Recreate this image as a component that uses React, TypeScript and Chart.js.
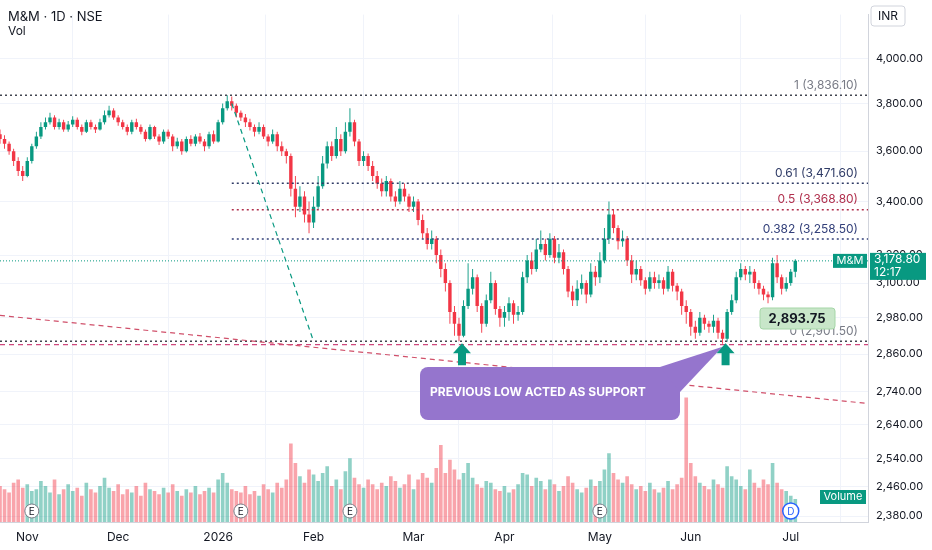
import React, { useEffect, useRef } from "react";
import { Chart, registerables } from "chart.js";
Chart.register(...registerables);

const closes = [3650,3630,3600,3560,3520,3500,3560,3620,3660,3700,3720,3740,3700,3720,3690,3710,3730,3700,3680,3720,
3700,3690,3720,3750,3770,3740,3720,3700,3680,3720,3700,3680,3650,3700,3660,3640,3680,3660,3620,3640,
3600,3650,3630,3660,3640,3620,3670,3640,3720,3780,3810,3790,3760,3740,3720,3700,3680,3700,3660,3640,
3670,3620,3600,3580,3450,3380,3420,3350,3320,3380,3460,3550,3620,3580,3650,3600,3680,3720,3640,3560,
3580,3540,3500,3470,3440,3480,3420,3400,3450,3420,3380,3400,3330,3280,3240,3260,3200,3150,3100,3000,
2960,2920,3020,3080,3120,3020,2960,3040,3100,3010,2980,3000,3030,2990,3000,3120,3180,3150,3220,3240,
3200,3260,3190,3210,3150,3070,3040,3080,3100,3060,3140,3120,3180,3260,3350,3300,3250,3260,3180,3130,
3150,3110,3080,3120,3100,3110,3080,3140,3090,3070,3020,3000,2950,2930,2980,2960,2950,2970,2930,2910,
3000,3040,3120,3150,3130,3140,3100,3080,3060,3050,3170,3120,3080,3100,3140,3178.8];
const highs = [3690,3665,3640,3610,3575,3540,3575,3630,3680,3720,3740,3760,3750,3735,3730,3725,3745,3740,3710,3730,
3730,3710,3735,3770,3790,3780,3750,3730,3710,3730,3735,3710,3690,3710,3705,3670,3690,3690,3670,3655,
3650,3660,3665,3670,3675,3650,3680,3685,3730,3800,3836,3830,3800,3770,3755,3735,3710,3720,3710,3670,
3690,3680,3640,3610,3590,3500,3460,3440,3400,3420,3500,3580,3640,3640,3700,3670,3720,3780,3730,3650,
3600,3590,3560,3520,3490,3500,3490,3440,3480,3470,3430,3420,3410,3350,3300,3290,3270,3220,3170,3110,
3020,2980,3040,3170,3150,3130,3030,3060,3140,3110,3020,3020,3050,3040,3020,3140,3200,3210,3260,3290,
3260,3280,3270,3240,3220,3160,3090,3110,3130,3110,3170,3160,3210,3300,3400,3370,3310,3290,3270,3200,
3180,3160,3120,3140,3140,3130,3120,3160,3150,3100,3080,3040,3010,2970,3000,2990,2970,2990,2980,2940,
3010,3060,3140,3170,3160,3160,3150,3110,3090,3070,3190,3200,3130,3120,3150,3185];
const lows = [3630,3610,3585,3540,3500,3480,3495,3550,3610,3650,3690,3710,3690,3690,3680,3680,3700,3690,3665,3675,
3690,3675,3685,3710,3740,3730,3705,3690,3665,3670,3690,3670,3640,3645,3650,3625,3630,3650,3600,3610,
3585,3595,3620,3620,3630,3600,3610,3630,3635,3710,3770,3770,3740,3725,3700,3685,3660,3670,3650,3620,
3630,3600,3580,3550,3420,3340,3360,3320,3280,3300,3370,3450,3530,3560,3570,3580,3590,3660,3620,3540,
3540,3520,3480,3450,3420,3420,3400,3380,3390,3400,3360,3360,3310,3260,3220,3220,3170,3120,3070,2960,
2920,2901.5,2915,3010,3060,3000,2930,2950,3030,2990,2950,2950,2970,2960,2970,2990,3100,3130,3140,3210,
3180,3190,3170,3170,3130,3050,3020,3020,3060,3030,3050,3090,3100,3170,3240,3280,3220,3230,3160,3100,
3110,3090,3060,3070,3080,3080,3060,3070,3070,3040,2990,2960,2920,2910,2920,2940,2930,2930,2910,2893.75,
2900,2990,3030,3110,3110,3100,3080,3060,3040,3030,3040,3100,3060,3070,3090,3120];
const firstOpen = 3670;
const volumes = [2.2,2.0,1.8,2.4,2.6,2.1,2.3,1.9,2.0,2.5,2.2,1.8,2.6,1.7,2.0,2.3,1.9,2.1,1.6,2.4,
2.0,1.8,2.2,2.7,2.1,1.9,2.3,1.7,2.0,1.8,2.2,1.6,2.4,2.0,1.9,1.7,2.1,1.8,2.3,1.9,
1.6,2.0,1.8,2.2,1.7,1.9,2.1,1.8,2.6,3.0,2.4,2.0,1.9,1.8,2.2,1.7,1.9,1.6,2.3,2.0,
1.8,2.4,2.1,2.6,4.8,3.6,2.8,2.4,3.2,2.9,2.5,3.0,3.4,2.2,2.6,2.0,3.1,3.9,2.7,2.3,
2.1,2.6,2.3,2.0,2.4,2.2,2.8,2.5,2.1,2.3,2.9,2.0,2.6,3.0,2.7,2.4,3.3,4.7,3.0,3.8,
3.2,2.6,3.0,3.6,2.7,2.3,2.1,2.5,2.4,2.0,1.9,2.2,1.8,2.0,2.3,3.0,2.9,2.2,2.7,2.5,
2.0,2.6,2.3,1.9,2.2,2.8,2.4,2.0,1.8,2.1,2.6,2.2,2.5,3.2,4.2,3.0,2.6,2.4,2.8,2.3,
2.0,2.2,1.9,2.4,2.0,1.8,2.1,2.5,2.0,2.3,2.7,7.6,3.6,2.8,2.4,2.2,2.0,2.6,2.3,2.1,
3.4,2.8,2.6,2.2,2.0,3.2,2.4,2.1,2.6,2.3,3.6,2.4,2.0,1.9,1.6,1.4];
const totalSlots = 192;
const monthTicks = [6, 26, 48, 69, 91, 111, 132, 152, 174];
const monthLabels = ["Nov", "Dec", "2026", "Feb", "Mar", "Apr", "May", "Jun", "Jul"];
const priceTicks = [2380, 2460, 2540, 2640, 2740, 2860, 2980, 3100, 3200, 3400, 3600, 3800, 4000];
const fibLevels = [
  { label: "1 (3,836.10)", value: 3836.1, color: "#787b86", full: true },
  { label: "0.61 (3,471.60)", value: 3471.6, color: "#2f3b66", full: false },
  { label: "0.5 (3,368.80)", value: 3368.8, color: "#b0304d", full: false },
  { label: "0.382 (3,258.50)", value: 3258.5, color: "#33407a", full: false },
  { label: "0 (2,901.50)", value: 2901.5, color: "#787b86", full: true },
];
const lastPrice = 3178.8;
const supportLow = 2893.75;

const UP = "#089981", DOWN = "#f23645";

export default function App() {
  const ref = useRef<HTMLCanvasElement>(null);
  useEffect(() => {
    document.body.style.margin = "0";
    const opens = [firstOpen, ...closes.slice(0, -1)];
    const labels = Array.from({ length: totalSlots }, (_, i) => String(i));
    const up = closes.map((c, i) => c >= opens[i]);
    const font = "'Inter', 'Noto Sans', sans-serif";
    const overlay = {
      id: "overlay",
      afterDatasetsDraw(chart: any) {
        const { ctx, chartArea: ca, scales } = chart;
        const x = scales.x, y = scales.y;
        const X = (i: number) => x.getPixelForValue(i);
        const Y = (v: number) => y.getPixelForValue(v);
        ctx.save();
        const line = (x1: number, y1: number, x2: number, y2: number, color: string, dash: number[], w = 1.2) => {
          ctx.beginPath(); ctx.setLineDash(dash); ctx.strokeStyle = color; ctx.lineWidth = w;
          ctx.moveTo(x1, y1); ctx.lineTo(x2, y2); ctx.stroke();
        };
        ctx.font = `12px ${font}`; ctx.textAlign = "right"; ctx.textBaseline = "bottom";
        for (const f of fibLevels) {
          const yy = Y(f.value);
          line(f.full ? ca.left : X(51), yy, ca.right, yy, f.full ? "#434651" : f.color, [2, 3], 1.5);
          ctx.fillStyle = f.color;
          ctx.fillText(f.label, ca.right - 10, yy - 4);
        }
        line(ca.left, Y(supportLow) + 1, ca.right, Y(supportLow) + 1, "#c2185b", [5, 4], 1);
        line(ca.left, Y(lastPrice), ca.right, Y(lastPrice), UP, [1, 2], 1);
        line(ca.left, Y(2988), ca.right, Y(2704), "#d0506a", [5, 4], 1.2);
        line(X(51), Y(3800), X(69), Y(2901.5), UP, [5, 4], 1.2);
        ctx.setLineDash([]);
        const bx = 420, by = 367, bw = 260, bh = 53;
        ctx.fillStyle = "#9575cd";
        ctx.beginPath();
        ctx.roundRect(bx, by, bw, bh, 8);
        ctx.fill();
        ctx.beginPath();
        ctx.moveTo(bx + bw - 20, by); ctx.lineTo(X(159), Y(supportLow) + 3); ctx.lineTo(bx + bw, by + 25); ctx.closePath();
        ctx.fill();
        ctx.fillStyle = "#ffffff"; ctx.font = `bold 12px ${font}`; ctx.textAlign = "left"; ctx.textBaseline = "middle";
        ctx.fillText("PREVIOUS LOW ACTED AS SUPPORT", bx + 10, by + 25);
        for (const i of [101, 159]) {
          const ax = X(i) + 3, top = Y(2901.5) + 2;
          ctx.fillStyle = UP; ctx.beginPath();
          ctx.moveTo(ax, top); ctx.lineTo(ax + 9, top + 10); ctx.lineTo(ax + 4, top + 10); ctx.lineTo(ax + 4, top + 22);
          ctx.lineTo(ax - 4, top + 22); ctx.lineTo(ax - 4, top + 10); ctx.lineTo(ax - 9, top + 10); ctx.closePath(); ctx.fill();
        }
        ctx.fillStyle = "#c8e6c9"; ctx.strokeStyle = "#a5d6a7"; ctx.lineWidth = 1;
        ctx.beginPath(); ctx.roundRect(760, 308, 75, 21, 3); ctx.fill(); ctx.stroke();
        ctx.fillStyle = "#131722"; ctx.font = `bold 13px ${font}`; ctx.textAlign = "center";
        ctx.fillText("2,893.75", 797, 319);
        const ly = Y(lastPrice);
        ctx.fillStyle = UP; ctx.fillRect(833, ly - 7, 34, 14);
        ctx.fillStyle = "#fff"; ctx.font = `11px ${font}`; ctx.fillText("M&M", 850, ly);
        ctx.fillStyle = UP; ctx.fillRect(870, ly - 8, 56, 27);
        ctx.fillStyle = "#fff"; ctx.font = `12px ${font}`; ctx.textAlign = "left";
        ctx.fillText("3,178.80", 874, ly - 1); ctx.fillText("12:17", 874, ly + 12);
        ctx.fillStyle = UP; ctx.fillRect(820, 490, 46, 14);
        ctx.fillStyle = "#fff"; ctx.font = `11px ${font}`; ctx.textAlign = "center"; ctx.fillText("Volume", 843, 497);
        for (const i of [7, 53, 77, 132]) {
          const ex = X(i), ey = 511;
          ctx.fillStyle = "#fff"; ctx.strokeStyle = "#787b86"; ctx.beginPath(); ctx.arc(ex, ey, 7, 0, Math.PI * 2); ctx.fill(); ctx.stroke();
          ctx.fillStyle = "#131722"; ctx.font = `10px ${font}`; ctx.fillText("E", ex, ey + 1);
        }
        const dx = X(174), dy = 511;
        ctx.fillStyle = "#fff"; ctx.strokeStyle = "#2962ff"; ctx.lineWidth = 1.5; ctx.beginPath(); ctx.arc(dx, dy, 8, 0, Math.PI * 2); ctx.fill(); ctx.stroke();
        ctx.fillStyle = "#2962ff"; ctx.fillText("D", dx, dy + 1);
        ctx.fillStyle = "#131722"; ctx.textAlign = "left"; ctx.font = `13px ${font}`;
        ctx.fillText("M&M · 1D · NSE", 8, 17);
        ctx.font = `12px ${font}`; ctx.fillText("Vol", 8, 31);
        ctx.strokeStyle = "#d1d4dc"; ctx.lineWidth = 1; ctx.beginPath(); ctx.roundRect(871, 6, 34, 20, 3); ctx.stroke();
        ctx.fillText("INR", 878, 16);
        ctx.restore();
      },
    };
    const chart = new Chart(ref.current!, {
      type: "bar",
      data: {
        labels,
        datasets: [
          { data: volumes.map((v) => v), yAxisID: "vol", backgroundColor: up.map((u) => (u ? "rgba(8,153,129,0.45)" : "rgba(242,54,69,0.45)")), barPercentage: 0.8, categoryPercentage: 1, grouped: false, order: 3 } as any,
          { data: closes.map((_, i) => [lows[i], highs[i]]), backgroundColor: up.map((u) => (u ? UP : DOWN)), maxBarThickness: 1, barPercentage: 0.2, categoryPercentage: 1, grouped: false, order: 2 } as any,
          { data: closes.map((c, i) => [opens[i], c === opens[i] ? c + 1 : c]), backgroundColor: up.map((u) => (u ? UP : DOWN)), barPercentage: 0.75, categoryPercentage: 1, grouped: false, order: 1 } as any,
        ],
      },
      options: {
        animation: false, responsive: false, maintainAspectRatio: false,
        layout: { padding: 0 },
        plugins: { legend: { display: false }, tooltip: { enabled: false } },
        scales: {
          x: {
            offset: false,
            grid: { color: "#f0f3fa", drawTicks: false },
            border: { color: "#d1d4dc" },
            afterBuildTicks: (s: any) => { s.ticks = monthTicks.map((v) => ({ value: v })); },
            ticks: { autoSkip: false, maxRotation: 0, padding: 8, color: "#131722", font: { size: 12, family: font, weight: "normal" } as any,
              callback: (v: any) => monthLabels[monthTicks.indexOf(v)] ?? "" },
            afterFit: (s: any) => { s.height = 28; },
          },
          y: {
            type: "logarithmic", position: "right", min: 2364, max: 4203,
            grid: { color: "#f0f3fa", drawTicks: false },
            border: { color: "#d1d4dc" },
            afterBuildTicks: (s: any) => { s.ticks = priceTicks.map((v) => ({ value: v })); },
            ticks: { padding: 8, color: "#131722", font: { size: 11, family: font }, callback: (v: any) => Number(v).toLocaleString("en-US", { minimumFractionDigits: 2 }) },
            afterFit: (s: any) => { s.width = 64; },
          },
          vol: { display: false, min: 0, max: 31 },
        },
      },
      plugins: [overlay],
    });
    return () => chart.destroy();
  }, []);
  return <canvas ref={ref} width={932} height={550} style={{ display: "block" }} />;
}
